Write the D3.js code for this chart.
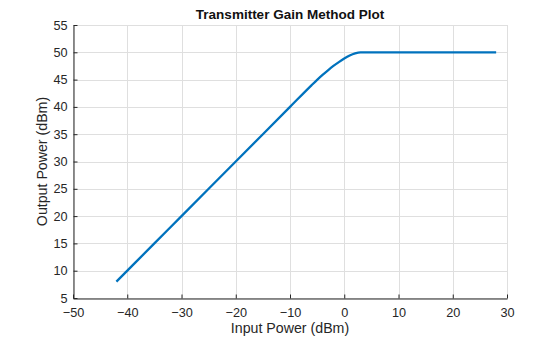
<!DOCTYPE html>
<html>
<head>
<meta charset="utf-8">
<script src="https://cdn.jsdelivr.net/npm/d3@7"></script>
<style>
  html, body { margin: 0; padding: 0; background: #fff; }
  svg { display: block; font-family: "Liberation Sans", Arial, sans-serif; }
</style>
</head>
<body>
<svg id="chart" width="560" height="337"></svg>
<script>
// Transmitter transfer curve: input power vs. output power (dBm)
const inputPower  = [-42, -35, -30, -20, -10, -6, -5, -4, -3, -2, -1, 0, 1, 2, 3, 4, 28];
const outputPower = [8, 15, 20, 30, 40, 44, 44.95, 45.85, 46.7, 47.5, 48.2, 48.85, 49.4, 49.8, 50, 50, 50];

const xTicks = [-50, -40, -30, -20, -10, 0, 10, 20, 30];
const yTicks = [5, 10, 15, 20, 25, 30, 35, 40, 45, 50, 55];

const titleText = "Transmitter Gain Method Plot";
const xLabel = "Input Power (dBm)";
const yLabel = "Output Power (dBm)";

const margin = { left: 73, right: 53, top: 25, bottom: 39 };
const W = 560, H = 337;

const svg = d3.select("#chart");
const x = d3.scaleLinear().domain([-50, 30]).range([margin.left, W - margin.right]);
const y = d3.scaleLinear().domain([5, 55]).range([H - margin.bottom, margin.top]);

const axisColor = "#262626";
const gridColor = "#dfdfdf";
const font = "\"Liberation Sans\", Arial, sans-serif";

// grid
const grid = svg.append("g");
grid.selectAll("line.gx").data(xTicks).join("line")
  .attr("x1", d => Math.round(x(d)) + 0.5).attr("x2", d => Math.round(x(d)) + 0.5)
  .attr("y1", y(55)).attr("y2", y(5))
  .attr("stroke", gridColor).attr("stroke-width", 1);
grid.selectAll("line.gy").data(yTicks).join("line")
  .attr("y1", d => Math.round(y(d)) + 0.5).attr("y2", d => Math.round(y(d)) + 0.5)
  .attr("x1", x(-50)).attr("x2", x(30))
  .attr("stroke", gridColor).attr("stroke-width", 1);

// data line
const pts = inputPower.map((v, i) => [v, outputPower[i]]);
svg.append("path")
  .datum(pts)
  .attr("fill", "none")
  .attr("stroke", "#0072BD")
  .attr("stroke-width", 2.3)
  .attr("d", d3.line().x(d => x(d[0])).y(d => y(d[1])).curve(d3.curveMonotoneX));

// axes with inward ticks
const xAxis = svg.append("g")
  .attr("transform", `translate(0,${Math.round(y(5)) + 0.5})`)
  .call(d3.axisBottom(x).tickValues(xTicks).tickSizeInner(-4).tickSizeOuter(0).tickPadding(9.5));
const yAxis = svg.append("g")
  .attr("transform", `translate(${Math.round(x(-50)) + 0.5},0)`)
  .call(d3.axisLeft(y).tickValues(yTicks).tickSizeInner(-4).tickSizeOuter(0).tickPadding(6));

[xAxis, yAxis].forEach(g => {
  g.attr("font-family", null).attr("font-size", null);
  g.select(".domain").attr("stroke", axisColor).attr("stroke-width", 1);
  g.selectAll(".tick line").attr("stroke", axisColor);
  g.selectAll(".tick text")
    .attr("fill", axisColor)
    .style("font-size", "12.7px")
    .style("font-family", font);
});

// title and labels
svg.append("text")
  .attr("x", (x(-50) + x(30)) / 2).attr("y", 19)
  .attr("text-anchor", "middle")
  .attr("fill", "#111")
  .style("font-family", font)
  .style("font-size", "13.5px").style("font-weight", "bold")
  .text(titleText);

svg.append("text")
  .attr("x", (x(-50) + x(30)) / 2).attr("y", 333)
  .attr("text-anchor", "middle")
  .attr("fill", axisColor)
  .style("font-family", font)
  .style("font-size", "14.2px")
  .text(xLabel);

svg.append("text")
  .attr("transform", `translate(46.5,${(y(5) + y(55)) / 2}) rotate(-90)`)
  .attr("text-anchor", "middle")
  .attr("fill", axisColor)
  .style("font-family", font)
  .style("font-size", "14.2px")
  .text(yLabel);
</script>
</body>
</html>
